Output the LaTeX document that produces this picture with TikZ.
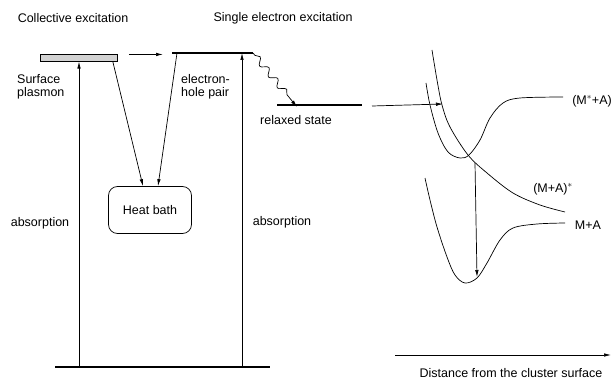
\documentclass[tikz,border=0pt]{standalone}
\usepackage{fontspec}
\setmainfont{Liberation Sans}
\usetikzlibrary{arrows.meta,decorations.pathmorphing}
\tikzset{
    lbl/.style={inner sep=0pt, font=\fontsize{12.5}{13}\selectfont},
    arr/.style={-{Latex[length=7pt,width=3.5pt]}, line width=0.7pt},
    level/.style={line width=1.3pt},
    curve/.style={line width=0.7pt, smooth, tension=0.55}
}
\begin{document}
\begin{tikzpicture}[x=1pt,y=-1pt]
    \useasboundingbox (0,0) rectangle (611,385);
    % Headings
    \node[lbl] (coll) at (73,18) {Collective excitation};
    \node[lbl] (single) at (283,18) {Single electron excitation};

    % Energy levels
    \node[draw, line width=0.6pt, fill=gray!35, minimum width=77pt, minimum height=6.5pt, inner sep=0pt] (sp) at (79,58) {};
    \coordinate (eh-l) at (172,53);
    \coordinate (eh-r) at (253,53);
    \coordinate (eh-a) at (242,53);
    \coordinate (rs-l) at (277,105);
    \coordinate (rs-r) at (362,105);
    \coordinate (g-l) at (55,367);
    \coordinate (g-r) at (270,367);
    \draw[level] (eh-l) -- (eh-r);
    \draw[level] (rs-l) -- (rs-r);
    \draw[level, line width=1.6pt] (g-l) -- (g-r);

    % Heat bath
    \node[lbl, draw, line width=0.7pt, rounded corners=9pt, minimum width=83pt, minimum height=47pt] (hb) at (150,210) {Heat bath};

    % Labels
    \node[lbl, anchor=west, align=left] (splbl) at (17,87) {Surface\\plasmon};
    \node[lbl, anchor=west, align=left] (ehlbl) at (181,87) {electron-\\hole pair};
    \node[lbl] (abs1) at (40,223) {absorption};
    \node[lbl] (abs2) at (282,222) {absorption};
    \node[lbl] (rslbl) at (296,120) {relaxed state};

    % Transitions
    \draw[arr] (sp.south |- g-l) -- (sp.south);
    \draw[arr] (eh-a |- g-l) -- (eh-a);
    \draw[arr] ([xshift=11pt]sp.north east) -- ([xshift=-9pt]eh-l |- sp.north east);
    \draw[arr] ([xshift=-5pt]sp.south east) -- ([xshift=-7pt]hb.north);
    \draw[arr] ([xshift=5pt]eh-l) -- ([xshift=8pt]hb.north);
    \draw[line width=0.7pt, decorate, decoration={snake, amplitude=3.2pt, segment length=14pt, pre length=3pt, post length=9pt}, -{Latex[length=7pt,width=3.5pt]}]
        (eh-r) -- ([xshift=20pt,yshift=-2pt]rs-l);
    \coordinate (hit) at (443,104);
    \draw[arr] ([xshift=10pt,yshift=-1pt]rs-r) -- (hit);

    % Potential curves
    \draw[curve] plot coordinates {(432,50) (437,80) (442,105) (450,127) (468,155) (487,173) (513,193) (540,205) (565,212)};
    \draw[curve] plot coordinates {(426,83) (430,105) (438,133) (448,152) (460,158) (469,155) (480,140) (490,118) (503,103) (520,98) (563,97)};
    \draw[curve] plot coordinates {(425,178) (430,200) (437,227) (447,257) (455,275) (465,283) (477,278) (487,263) (500,240) (513,228) (537,224) (565,223)};
    \coordinate (cross) at (475,163);
    \coordinate (bottom) at (477,277);
    \draw[arr] (cross) -- (bottom);
    \node[lbl] (mstar) at (592,101) {(M$^{\ast}$+A)};
    \node[lbl] (mastar) at (553,189) {(M+A)$^{\ast}$};
    \node[lbl] (ma) at (588,225) {M+A};

    % Distance axis
    \coordinate (ax-l) at (395,355);
    \coordinate (ax-r) at (611,355);
    \draw[arr] (ax-l) -- (ax-r);
    \node[lbl] (axlbl) at (511,373) {Distance from the cluster surface};
\end{tikzpicture}
\end{document}
